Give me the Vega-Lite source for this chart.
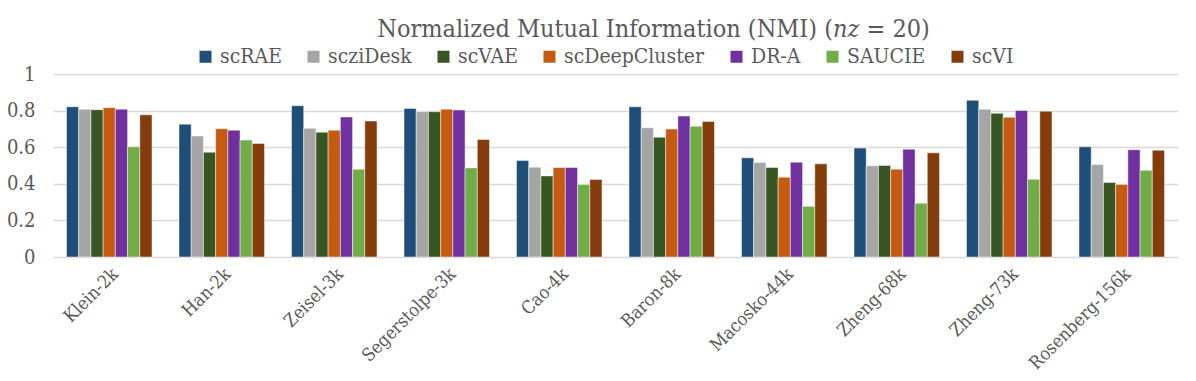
{
  "$schema": "https://vega.github.io/schema/vega-lite/v6.json",
  "autosize": "none",
  "width": 1125,
  "height": 183,
  "padding": {"left": 53, "top": 74, "right": 18, "bottom": 124},
  "background": "white",
  "title": {
    "text": "Normalized Mutual Information (NMI) (𝑛𝑧 = 20)",
    "font": "'DejaVu Serif Condensed', 'DejaVu Serif'",
    "fontSize": 25,
    "fontWeight": "normal",
    "color": "#595959",
    "anchor": "middle",
    "dx": 38,
    "offset": 4
  },
  "data": {
    "values": [
      {"dataset": "Klein-2k", "method": "scRAE", "nmi": 0.821},
      {"dataset": "Klein-2k", "method": "scziDesk", "nmi": 0.807},
      {"dataset": "Klein-2k", "method": "scVAE", "nmi": 0.805},
      {"dataset": "Klein-2k", "method": "scDeepCluster", "nmi": 0.816},
      {"dataset": "Klein-2k", "method": "DR-A", "nmi": 0.808},
      {"dataset": "Klein-2k", "method": "SAUCIE", "nmi": 0.602},
      {"dataset": "Klein-2k", "method": "scVI", "nmi": 0.777},
      {"dataset": "Han-2k", "method": "scRAE", "nmi": 0.726},
      {"dataset": "Han-2k", "method": "scziDesk", "nmi": 0.661},
      {"dataset": "Han-2k", "method": "scVAE", "nmi": 0.573},
      {"dataset": "Han-2k", "method": "scDeepCluster", "nmi": 0.701},
      {"dataset": "Han-2k", "method": "DR-A", "nmi": 0.693},
      {"dataset": "Han-2k", "method": "SAUCIE", "nmi": 0.639},
      {"dataset": "Han-2k", "method": "scVI", "nmi": 0.620},
      {"dataset": "Zeisel-3k", "method": "scRAE", "nmi": 0.827},
      {"dataset": "Zeisel-3k", "method": "scziDesk", "nmi": 0.703},
      {"dataset": "Zeisel-3k", "method": "scVAE", "nmi": 0.682},
      {"dataset": "Zeisel-3k", "method": "scDeepCluster", "nmi": 0.693},
      {"dataset": "Zeisel-3k", "method": "DR-A", "nmi": 0.765},
      {"dataset": "Zeisel-3k", "method": "SAUCIE", "nmi": 0.480},
      {"dataset": "Zeisel-3k", "method": "scVI", "nmi": 0.743},
      {"dataset": "Segerstolpe-3k", "method": "scRAE", "nmi": 0.812},
      {"dataset": "Segerstolpe-3k", "method": "scziDesk", "nmi": 0.794},
      {"dataset": "Segerstolpe-3k", "method": "scVAE", "nmi": 0.794},
      {"dataset": "Segerstolpe-3k", "method": "scDeepCluster", "nmi": 0.808},
      {"dataset": "Segerstolpe-3k", "method": "DR-A", "nmi": 0.803},
      {"dataset": "Segerstolpe-3k", "method": "SAUCIE", "nmi": 0.487},
      {"dataset": "Segerstolpe-3k", "method": "scVI", "nmi": 0.642},
      {"dataset": "Cao-4k", "method": "scRAE", "nmi": 0.527},
      {"dataset": "Cao-4k", "method": "scziDesk", "nmi": 0.491},
      {"dataset": "Cao-4k", "method": "scVAE", "nmi": 0.443},
      {"dataset": "Cao-4k", "method": "scDeepCluster", "nmi": 0.489},
      {"dataset": "Cao-4k", "method": "DR-A", "nmi": 0.489},
      {"dataset": "Cao-4k", "method": "SAUCIE", "nmi": 0.396},
      {"dataset": "Cao-4k", "method": "scVI", "nmi": 0.423},
      {"dataset": "Baron-8k", "method": "scRAE", "nmi": 0.821},
      {"dataset": "Baron-8k", "method": "scziDesk", "nmi": 0.706},
      {"dataset": "Baron-8k", "method": "scVAE", "nmi": 0.655},
      {"dataset": "Baron-8k", "method": "scDeepCluster", "nmi": 0.699},
      {"dataset": "Baron-8k", "method": "DR-A", "nmi": 0.770},
      {"dataset": "Baron-8k", "method": "SAUCIE", "nmi": 0.715},
      {"dataset": "Baron-8k", "method": "scVI", "nmi": 0.741},
      {"dataset": "Macosko-44k", "method": "scRAE", "nmi": 0.542},
      {"dataset": "Macosko-44k", "method": "scziDesk", "nmi": 0.516},
      {"dataset": "Macosko-44k", "method": "scVAE", "nmi": 0.489},
      {"dataset": "Macosko-44k", "method": "scDeepCluster", "nmi": 0.436},
      {"dataset": "Macosko-44k", "method": "DR-A", "nmi": 0.518},
      {"dataset": "Macosko-44k", "method": "SAUCIE", "nmi": 0.277},
      {"dataset": "Macosko-44k", "method": "scVI", "nmi": 0.509},
      {"dataset": "Zheng-68k", "method": "scRAE", "nmi": 0.595},
      {"dataset": "Zheng-68k", "method": "scziDesk", "nmi": 0.498},
      {"dataset": "Zheng-68k", "method": "scVAE", "nmi": 0.500},
      {"dataset": "Zheng-68k", "method": "scDeepCluster", "nmi": 0.480},
      {"dataset": "Zheng-68k", "method": "DR-A", "nmi": 0.589},
      {"dataset": "Zheng-68k", "method": "SAUCIE", "nmi": 0.294},
      {"dataset": "Zheng-68k", "method": "scVI", "nmi": 0.569},
      {"dataset": "Zheng-73k", "method": "scRAE", "nmi": 0.856},
      {"dataset": "Zheng-73k", "method": "scziDesk", "nmi": 0.808},
      {"dataset": "Zheng-73k", "method": "scVAE", "nmi": 0.785},
      {"dataset": "Zheng-73k", "method": "scDeepCluster", "nmi": 0.763},
      {"dataset": "Zheng-73k", "method": "DR-A", "nmi": 0.801},
      {"dataset": "Zheng-73k", "method": "SAUCIE", "nmi": 0.425},
      {"dataset": "Zheng-73k", "method": "scVI", "nmi": 0.797},
      {"dataset": "Rosenberg-156k", "method": "scRAE", "nmi": 0.602},
      {"dataset": "Rosenberg-156k", "method": "scziDesk", "nmi": 0.505},
      {"dataset": "Rosenberg-156k", "method": "scVAE", "nmi": 0.407},
      {"dataset": "Rosenberg-156k", "method": "scDeepCluster", "nmi": 0.396},
      {"dataset": "Rosenberg-156k", "method": "DR-A", "nmi": 0.586},
      {"dataset": "Rosenberg-156k", "method": "SAUCIE", "nmi": 0.474},
      {"dataset": "Rosenberg-156k", "method": "scVI", "nmi": 0.584}
    ]
  },
  "mark": {"type": "bar", "stroke": "white", "strokeOpacity": 0.6, "strokeWidth": 0.8},
  "encoding": {
    "x": {
      "field": "dataset",
      "type": "nominal",
      "sort": null,
      "scale": {"paddingInner": 0.24, "paddingOuter": 0.12},
      "axis": {
        "title": null,
        "labelAngle": -45,
        "labelFont": "'DejaVu Serif Condensed', 'DejaVu Serif'",
        "labelFontSize": 18,
        "labelColor": "#595959",
        "labelPadding": 8,
        "ticks": false,
        "domain": false,
        "grid": false
      }
    },
    "xOffset": {
      "field": "method",
      "type": "nominal",
      "sort": ["scRAE", "scziDesk", "scVAE", "scDeepCluster", "DR-A", "SAUCIE", "scVI"]
    },
    "y": {
      "field": "nmi",
      "type": "quantitative",
      "scale": {"domain": [0, 1], "nice": false},
      "axis": {
        "title": null,
        "values": [0, 0.2, 0.4, 0.6, 0.8, 1],
        "labelExpr": "datum.value == 0 ? '0' : datum.value == 1 ? '1' : format(datum.value, '.1f')",
        "labelFont": "'DejaVu Serif Condensed', 'DejaVu Serif'",
        "labelFontSize": 20,
        "labelColor": "#595959",
        "labelPadding": 18,
        "ticks": false,
        "domain": false,
        "gridColor": "#D9D9D9",
        "gridWidth": 1.3
      }
    },
    "color": {
      "field": "method",
      "type": "nominal",
      "sort": ["scRAE", "scziDesk", "scVAE", "scDeepCluster", "DR-A", "SAUCIE", "scVI"],
      "scale": {
        "domain": ["scRAE", "scziDesk", "scVAE", "scDeepCluster", "DR-A", "SAUCIE", "scVI"],
        "range": ["#1F4E79", "#A5A5A5", "#375623", "#C55A11", "#7030A0", "#70AD47", "#843C0C"]
      },
      "legend": {
        "title": null,
        "orient": "none",
        "direction": "horizontal",
        "legendX": 142,
        "legendY": -28,
        "symbolType": "square",
        "symbolSize": 144,
        "symbolStrokeWidth": 0,
        "labelFont": "'DejaVu Serif Condensed', 'DejaVu Serif'",
        "labelFontSize": 21,
        "labelColor": "#595959",
        "labelOffset": 4,
        "columnPadding": 21
      }
    }
  },
  "config": {"view": {"stroke": null}}
}
